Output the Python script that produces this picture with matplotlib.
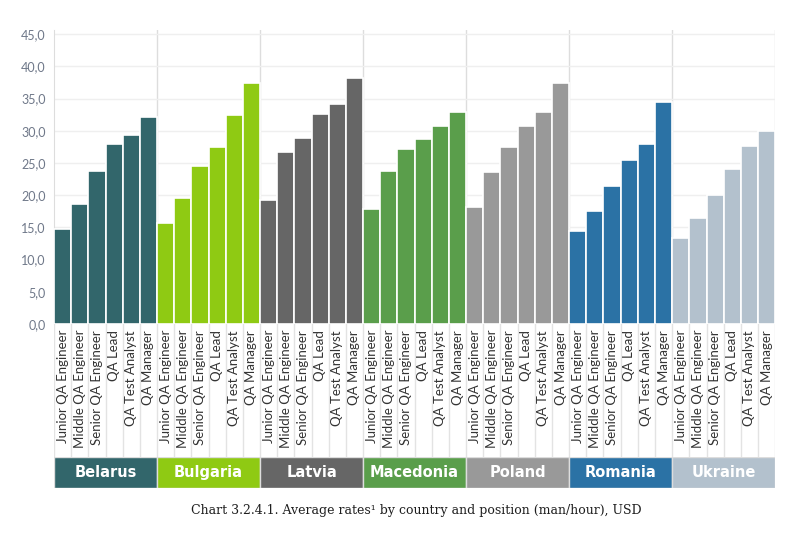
import matplotlib
matplotlib.use("Agg")
import matplotlib.pyplot as plt

countries = ["Belarus", "Bulgaria", "Latvia", "Macedonia", "Poland", "Romania", "Ukraine"]
positions = ["Junior QA Engineer", "Middle QA Engineer", "Senior QA Engineer",
             "QA Lead", "QA Test Analyst", "QA Manager"]
belarus = [14.8, 18.6, 23.7, 27.9, 29.4, 32.2]
bulgaria = [15.7, 19.6, 24.6, 27.4, 32.4, 37.4]
latvia = [19.2, 26.7, 28.9, 32.6, 34.1, 38.2]
macedonia = [17.8, 23.7, 27.1, 28.7, 30.8, 32.9]
poland = [18.1, 23.6, 27.4, 30.8, 32.9, 37.4]
romania = [14.4, 17.6, 21.4, 25.4, 27.9, 34.4]
ukraine = [13.3, 16.4, 20.1, 24.1, 27.6, 29.9]
colors = ["#32666b", "#8fca13", "#666666", "#5a9e4b", "#999999", "#2b72a5", "#b3c1cd"]
yticks = [0, 5, 10, 15, 20, 25, 30, 35, 40, 45]

values = [belarus, bulgaria, latvia, macedonia, poland, romania, ukraine]
n = len(positions)
total = n * len(countries)
grid_c = "#e3e3e3"

fig = plt.figure(figsize=(8, 5.4), dpi=100)
ax = fig.add_axes([0.0675, 0.4, 0.9015, 0.544])
ax_lab = fig.add_axes([0.0675, 0.154, 0.9015, 0.246], sharex=ax)
ax_cty = fig.add_axes([0.0675, 0.0963, 0.9015, 0.0574], sharex=ax)

# bars
for g, (vals, col) in enumerate(zip(values, colors)):
    xs = [g * n + i for i in range(n)]
    ax.bar(xs, vals, width=1.0, color=col, edgecolor="white", linewidth=1.2, zorder=3)

ax.set_xlim(-0.5, total - 0.5)
ax.set_ylim(0, 45.6)
ax.set_yticks(yticks)
ax.set_yticklabels([f"{v:.1f}".replace(".", ",") for v in yticks],
                   fontsize=9, color="#6f7889", family="Lato")
ax.yaxis.grid(True, color="#efefef", linewidth=1.0, zorder=0)
ax.tick_params(axis="y", length=0, pad=6)
ax.tick_params(axis="x", length=0, labelbottom=False)
for s in ["top", "right", "bottom"]:
    ax.spines[s].set_visible(False)
ax.spines["left"].set_color("#dddddd")
for g in range(1, len(countries) + 1):
    ax.axvline(g * n - 0.5, color="#dddddd", linewidth=1.0, zorder=1)

# position labels
ax_lab.set_ylim(0, 1)
for s in ax_lab.spines.values():
    s.set_visible(False)
ax_lab.tick_params(length=0, labelbottom=False, labelleft=False)
ax_lab.set_yticks([])
for k in range(total + 1):
    ax_lab.axvline(k - 0.5, color=grid_c, linewidth=1.0)
for k in range(total):
    ax_lab.text(k, 0.955, positions[k % n], rotation=90, ha="center", va="top",
                fontsize=9.5, color="#333333", family="Lato")

# country band
ax_cty.set_ylim(0, 1)
for s in ax_cty.spines.values():
    s.set_visible(False)
ax_cty.tick_params(length=0, labelbottom=False, labelleft=False)
ax_cty.set_yticks([])
for g, (c, col) in enumerate(zip(countries, colors)):
    ax_cty.bar(g * n + (n - 1) / 2, 1, width=n, bottom=0, color=col,
               edgecolor="#dddddd", linewidth=1.0)
    ax_cty.text(g * n + (n - 1) / 2, 0.5, c, ha="center", va="center", color="white",
                fontsize=10.5, fontweight="bold", family=["Liberation Sans Narrow", "DejaVu Sans"])

fig.text(0.52, 0.055, "Chart 3.2.4.1. Average rates\u00b9 by country and position (man/hour), USD",
         ha="center", va="center", fontsize=9, family="DejaVu Serif", color="#1e1e1e")

fig.savefig("out.png", dpi=100, facecolor="white")
